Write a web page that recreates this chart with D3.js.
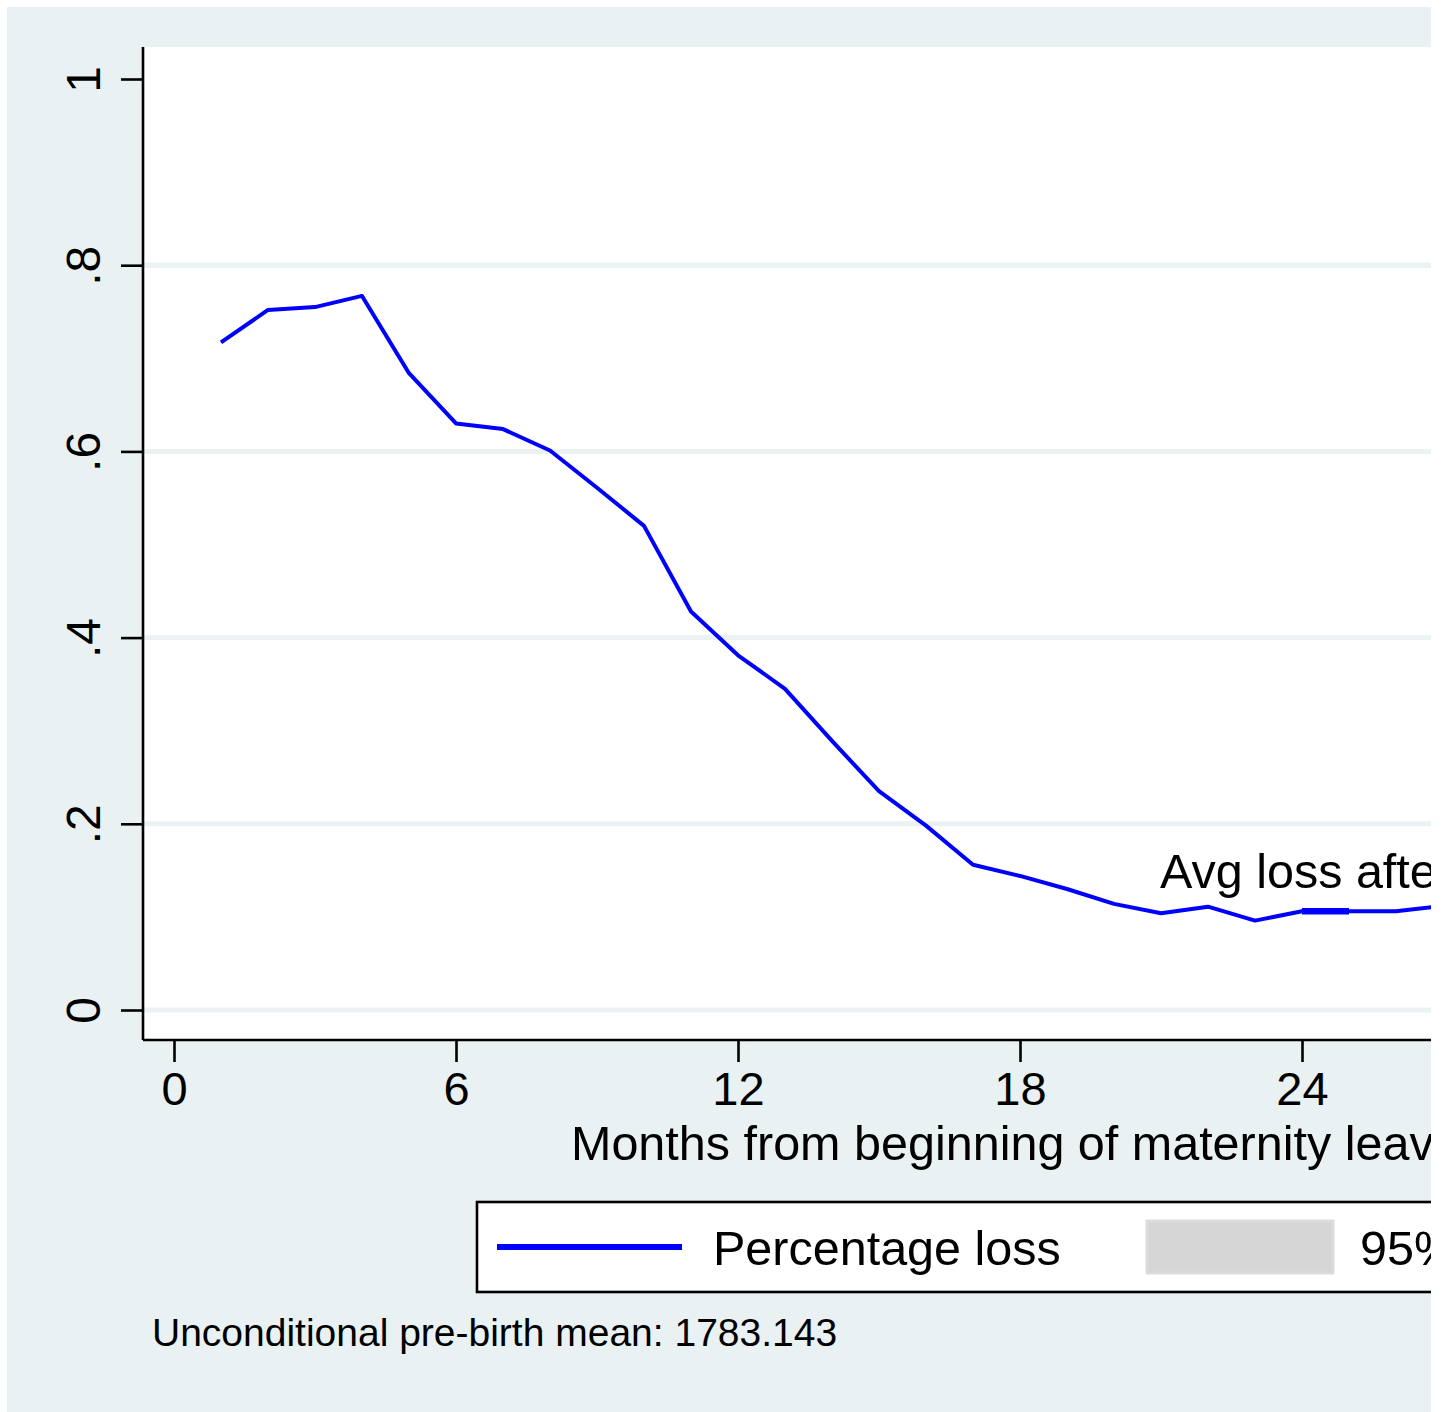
<!DOCTYPE html>
<html>
<head>
<meta charset="utf-8">
<script src="https://cdn.jsdelivr.net/npm/d3@7"></script>
<style>
  html, body { margin: 0; padding: 0; background: #ffffff; }
  svg { display: block; overflow: hidden; }
  text { font-family: "Liberation Sans", Arial, sans-serif; fill: #000; }
</style>
</head>
<body>
<svg id="chart" width="1431" height="1412"></svg>
<script>
// Percentage earnings loss by month since the start of maternity leave
const months = [1, 2, 3, 4, 5, 6, 7, 8, 9, 10, 11, 12, 13, 14, 15, 16, 17, 18, 19, 20, 21, 22, 23, 24, 25, 26, 27];
const loss = [0.717, 0.752, 0.755, 0.767, 0.684, 0.630, 0.624, 0.601, 0.561, 0.520, 0.428, 0.381, 0.345, 0.289, 0.235, 0.198, 0.156, 0.144, 0.130, 0.114, 0.104, 0.111, 0.096, 0.106, 0.106, 0.106, 0.112];
// Average loss after month 24 (drawn as a short reference segment)
const avgMonths = [24, 25];
const avgLoss = 0.106;
const xTicks = [0, 6, 12, 18, 24];
const yTicks = [0, 0.2, 0.4, 0.6, 0.8, 1];
const yTickLabels = ["0", ".2", ".4", ".6", ".8", "1"];
const gridTicks = [0, 0.2, 0.4, 0.6, 0.8];

const svg = d3.select("#chart");

// outer graph region
svg.append("rect").attr("x", 7).attr("y", 7).attr("width", 1500).attr("height", 1405)
  .attr("fill", "#e9f1f3");
// plot region
svg.append("rect").attr("x", 143).attr("y", 47).attr("width", 1400).attr("height", 993)
  .attr("fill", "#ffffff");

const x = d3.scaleLinear().domain([0, 24]).range([174, 1302]);
const y = d3.scaleLinear().domain([0, 1]).range([1010, 79]);

// grid lines
svg.append("g").selectAll("line").data(gridTicks).join("line")
  .attr("x1", 143).attr("x2", 1500)
  .attr("y1", d => y(d)).attr("y2", d => y(d))
  .attr("stroke", "#eaf2f3").attr("stroke-width", 5);

// y axis
const yAxis = svg.append("g").attr("transform", "translate(143,0)")
  .call(d3.axisLeft(y).tickValues(yTicks).tickSize(22).tickPadding(0)
    .tickFormat((d, i) => yTickLabels[i]));
yAxis.select(".domain").attr("d", `M0,47V1040`).attr("stroke", "#000").attr("stroke-width", 2.6);
yAxis.selectAll(".tick line").attr("stroke", "#000").attr("stroke-width", 2.6);
yAxis.selectAll(".tick text")
  .attr("x", 0).attr("dy", 0)
  .attr("transform", "translate(-43,0) rotate(-90)")
  .attr("text-anchor", "middle")
  .style("font-size", "48px")
  .style("font-family", "'Liberation Sans', Arial, sans-serif")
  .attr("fill", "#000");

// x axis
const xAxis = svg.append("g").attr("transform", "translate(0,1040)")
  .call(d3.axisBottom(x).tickValues(xTicks).tickSize(22).tickPadding(10)
    .tickFormat(d3.format("d")));
xAxis.select(".domain").attr("d", `M143,0H1500`).attr("stroke", "#000").attr("stroke-width", 2.6);
xAxis.selectAll(".tick line").attr("stroke", "#000").attr("stroke-width", 2.6);
xAxis.selectAll(".tick text")
  .attr("dy", "0.71em")
  .style("font-size", "47px")
  .style("font-family", "'Liberation Sans', Arial, sans-serif")
  .attr("fill", "#000");

// axis title
svg.append("text").attr("x", 571).attr("y", 1160)
  .style("font-size", "48.5px")
  .text("Months from beginning of maternity leave");

// main series
const line = d3.line().x(d => x(d[0])).y(d => y(d[1]));
svg.append("path")
  .datum(months.map((m, i) => [m, loss[i]]))
  .attr("d", line)
  .attr("fill", "none").attr("stroke", "#0000ff").attr("stroke-width", 4)
  .attr("stroke-linejoin", "round");

// average loss segment
svg.append("path")
  .datum(avgMonths.map(m => [m, avgLoss]))
  .attr("d", line)
  .attr("fill", "none").attr("stroke", "#0000ff").attr("stroke-width", 6.5);

svg.append("text").attr("x", 1160).attr("y", 888)
  .style("font-size", "48.5px")
  .text("Avg loss after");

// legend
const lg = svg.append("g");
lg.append("rect").attr("x", 477).attr("y", 1202).attr("width", 1100).attr("height", 90)
  .attr("fill", "#ffffff").attr("stroke", "#000").attr("stroke-width", 2.6);
lg.append("line").attr("x1", 497).attr("x2", 682).attr("y1", 1247).attr("y2", 1247)
  .attr("stroke", "#0000ff").attr("stroke-width", 6);
lg.append("text").attr("x", 713).attr("y", 1265).style("font-size", "48.5px")
  .text("Percentage loss");
lg.append("rect").attr("x", 1147).attr("y", 1221).attr("width", 186).attr("height", 52)
  .attr("fill", "#d6d6d6").attr("stroke", "#dcdcdc").attr("stroke-width", 3);
lg.append("text").attr("x", 1360).attr("y", 1265).style("font-size", "48.5px")
  .text("95% CI");

// note
svg.append("text").attr("x", 152).attr("y", 1346).style("font-size", "39px")
  .text("Unconditional pre-birth mean: 1783.143");
</script>
</body>
</html>
